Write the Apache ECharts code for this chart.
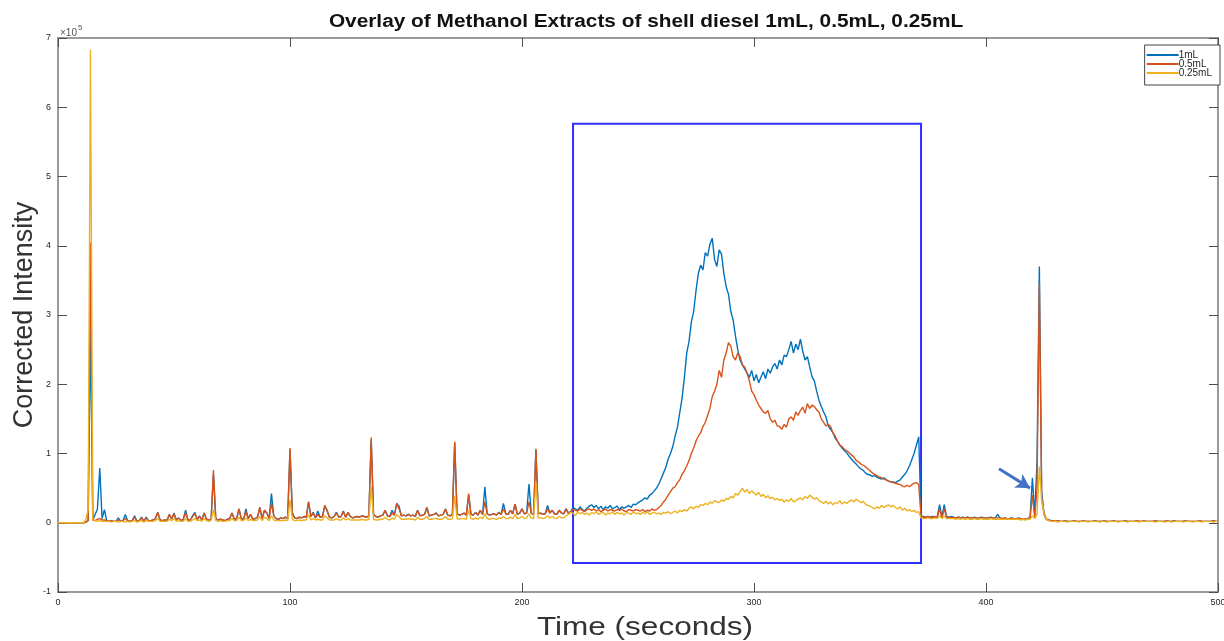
<!DOCTYPE html>
<html>
<head>
<meta charset="utf-8">
<script src="https://cdn.jsdelivr.net/npm/echarts@6/dist/echarts.min.js"></script>
<style>
  html, body { margin: 0; padding: 0; background: #fff; }
  #chart { width: 1224px; height: 641px; }
</style>
</head>
<body>
<div id="chart"></div>
<script>
// Corrected intensity, in thousands of counts, one sample per second from t = 0 s to t = 500 s.
const sampleStep = 1; // seconds between samples

const xTicks = [0, 100, 200, 300, 400, 500];
const yTicks = [-1, 0, 1, 2, 3, 4, 5, 6, 7]; // ×10^5

const seriesNames = ['1mL', '0.5mL', '0.25mL'];

const intensity1mL = [
  0,0,0,0,0,0,0,0,0,0,
  0,0,1,3,280,4,12,20,79,6,
  19,3,2,3,2,2,7,2,3,12,
  3,2,3,10,2,3,8,2,8,3,
  3,4,6,15,4,3,4,3,12,5,
  14,4,7,3,5,18,4,4,10,15,
  5,10,4,14,5,4,5,70,6,4,
  5,4,3,5,6,14,5,6,20,6,
  5,20,6,12,5,6,8,22,6,18,
  14,6,42,10,6,5,7,6,8,6,
  105,15,7,6,8,7,9,8,30,9,
  15,7,17,8,9,25,18,8,7,9,
  15,8,9,17,8,15,9,7,8,9,
  8,10,9,8,10,120,12,9,8,10,
  11,18,10,9,18,11,28,24,10,11,
  10,12,10,11,9,18,10,11,12,22,
  10,11,12,14,10,11,12,20,11,10,
  12,115,13,11,12,14,11,40,12,11,
  15,11,18,12,52,13,11,12,13,11,
  15,12,28,13,12,18,13,27,12,14,
  20,13,14,56,14,12,105,13,14,12,
  13,25,14,18,13,12,18,14,13,20,
  14,16,22,20,18,23,19,17,21,24,
  26,22,25,20,24,19,23,21,25,20,
  22,24,19,23,21,23,25,22,27,26,
  29,31,33,36,34,40,42,46,50,56,
  64,72,80,92,100,110,125,138,159,180,
  210,245,262,290,305,335,360,372,365,390,
  385,402,411,380,370,394,388,360,341,330,
  305,293,270,250,235,228,222,216,210,220,
  205,214,202,210,218,208,222,216,225,230,
  222,235,228,242,240,250,262,245,258,250,
  265,248,235,240,225,211,205,190,177,168,
  160,153,140,135,130,122,118,112,108,104,
  101,96,92,88,85,81,78,76,72,70,
  69,67,68,66,64,63,65,62,60,59,
  59,58,60,62,66,70,75,82,91,100,
  112,124,10,9,8,9,8,9,8,9,
  26,8,26,9,8,9,8,7,8,7,
  8,7,8,7,7,8,7,7,8,7,
  7,7,8,7,7,12,7,6,7,6,
  6,7,6,6,7,6,6,5,6,8,
  65,10,90,370,45,12,5,4,3,3,
  2,3,2,2,3,2,2,2,3,2,
  2,2,3,2,2,2,2,3,2,2,
  2,3,2,2,2,3,2,2,2,2,
  3,2,2,2,2,3,2,2,3,2,
  2,2,2,3,2,2,2,2,3,2,
  2,3,2,2,2,2,3,2,2,2,
  2,2,3,2,2,2,2,2,3,2,
  2
];

const intensity05mL = [
  0,0,0,0,0,0,0,0,0,0,
  0,0,1,3,405,4,3,5,6,4,
  4,3,2,3,2,2,4,2,3,6,
  3,2,3,8,2,3,7,2,7,3,
  3,4,6,15,4,3,4,4,12,6,
  13,4,7,3,5,14,4,4,9,13,
  5,9,4,14,5,4,5,76,6,4,
  5,4,3,5,6,14,5,6,20,6,
  5,16,6,12,5,6,8,22,6,18,
  14,6,28,10,6,5,7,6,8,6,
  108,12,7,6,8,7,9,8,30,9,
  14,7,12,8,9,25,17,8,7,9,
  14,8,9,16,8,15,9,7,8,9,
  8,10,9,8,10,123,12,9,8,10,
  11,18,10,9,14,11,28,20,10,11,
  10,12,10,11,9,18,10,11,12,22,
  10,11,12,14,10,11,12,20,11,10,
  12,117,13,11,12,14,11,42,12,11,
  15,11,18,12,30,13,11,12,13,11,
  15,12,20,13,12,18,13,27,12,14,
  20,13,14,30,14,12,107,13,14,12,
  13,20,14,18,13,12,18,14,13,20,
  14,16,19,18,17,20,18,16,19,20,
  18,20,17,19,16,18,20,17,19,18,
  17,19,18,20,17,16,19,18,17,19,
  18,17,19,16,18,17,20,18,19,22,
  25,30,34,40,45,50,52,58,62,70,
  75,82,90,100,108,118,125,130,139,145,
  155,165,182,190,200,220,210,235,245,260,
  255,240,235,245,240,228,225,216,205,190,
  185,177,170,165,160,158,162,150,145,148,
  140,139,135,142,138,150,153,148,160,155,
  162,167,158,172,165,170,168,163,160,150,
  145,140,142,139,130,125,118,112,110,106,
  104,101,98,95,90,88,85,83,81,78,
  75,72,70,68,66,65,63,62,60,59,
  58,57,56,55,53,52,54,52,55,57,
  58,55,9,8,8,9,8,8,9,8,
  20,7,20,8,7,8,7,7,8,7,
  7,7,8,7,7,7,7,7,7,7,
  7,7,7,7,7,7,7,6,7,6,
  6,7,6,6,6,6,6,5,6,7,
  40,8,50,346,33,15,5,4,3,3,
  2,3,2,2,3,2,2,2,3,2,
  2,2,3,2,2,2,2,3,2,2,
  2,3,2,2,2,3,2,2,2,2,
  3,2,2,2,2,3,2,2,3,2,
  2,2,2,3,2,2,2,2,3,2,
  2,3,2,2,2,2,3,2,2,2,
  2,2,3,2,2,2,2,2,3,2,
  2
];

const intensity025mL = [
  0,0,0,0,0,0,0,0,0,0,
  0,0,5,19,683,5,3,2,3,2,
  2,2,2,1,2,2,1,2,2,1,
  2,1,2,3,1,2,3,1,3,2,
  2,2,3,6,2,2,2,2,5,3,
  6,2,3,2,2,6,2,2,4,6,
  3,4,2,6,3,2,3,19,3,2,
  3,2,2,3,3,6,3,3,8,3,
  3,7,3,5,3,3,4,9,3,8,
  6,3,10,4,3,3,3,3,4,3,
  33,5,3,3,4,3,4,4,12,4,
  6,4,5,4,4,10,7,4,4,4,
  6,4,4,7,4,6,4,4,4,4,
  4,5,4,4,5,52,5,4,4,5,
  5,8,5,4,7,5,12,9,5,5,
  5,6,5,5,4,8,5,5,6,9,
  5,5,6,6,5,5,6,9,5,5,
  6,38,6,5,6,6,5,18,6,5,
  7,5,8,6,13,6,5,6,6,5,
  7,6,9,6,6,8,6,12,6,7,
  9,6,7,13,7,6,60,7,7,6,
  7,10,7,9,7,6,9,7,7,10,
  12,15,14,10,16,13,15,12,14,11,
  15,13,16,12,14,15,11,14,13,16,
  12,15,13,14,11,15,14,12,16,13,
  14,12,15,13,16,12,14,15,13,14,
  12,15,14,16,13,15,17,14,18,16,
  19,17,21,23,20,24,22,26,25,28,
  26,30,28,32,30,29,33,31,35,34,
  38,36,42,40,45,50,44,48,42,46,
  43,40,44,38,41,36,39,35,37,33,
  35,32,34,30,33,31,35,30,32,34,
  36,33,38,35,40,37,34,36,32,30,
  28,31,27,30,26,29,28,32,27,30,
  28,31,33,30,34,32,29,31,27,25,
  24,22,20,23,21,25,22,24,26,23,
  25,22,20,23,18,21,17,19,16,18,
  15,16,7,6,6,7,6,6,7,6,
  10,6,10,6,6,6,6,5,6,5,
  6,5,6,5,5,6,5,5,6,5,
  5,5,6,5,5,5,5,5,5,5,
  5,5,5,5,5,4,5,4,5,5,
  10,6,12,81,33,12,5,3,2,2,
  2,1,2,2,2,1,2,2,2,2,
  1,2,2,2,1,2,2,2,2,1,
  2,2,1,2,2,2,2,1,2,2,
  2,1,2,2,2,2,1,2,2,2,
  2,2,2,1,2,2,2,1,2,2,
  1,2,2,2,2,1,2,2,2,1,
  2,2,2,1,2,2,2,2,1,2,
  2
];

// Highlighted retention window (s) and its vertical extent (thousands of counts)
const boxTime = [222, 372];
const boxLevel = [-58, 576];
// Arrow pointing at the shoulder before the 423 s peak: [time, level]
const arrowFrom = [405.6, 78];
const arrowTo = [419, 50];

const titleText = 'Overlay of Methanol Extracts of shell diesel 1mL, 0.5mL, 0.25mL';
const xName = 'Time (seconds)';
const yName = 'Corrected Intensity';

const colors = ['#0072BD', '#D95319', '#EDB120'];
const font = 'Liberation Sans, Arial, Helvetica, sans-serif';
const inkColor = '#262626';
const frameColor = '#9a9a9a';
const wideText = 1.19; // horizontal stretch of the horizontal captions

function toPairs(values) {
  return values.map((v, i) => [i * sampleStep, v]);
}

const chart = echarts.init(document.getElementById('chart'), null, { renderer: 'canvas' });

const frameAxis = (extra) => Object.assign({
  type: 'value',
  axisLine: { show: true, onZero: false, lineStyle: { color: frameColor, width: 2 } },
  axisTick: { show: true, inside: true, length: 9, lineStyle: { color: '#4d4d4d', width: 1 } },
  splitLine: { show: false }
}, extra);

const lineSeries = (idx, values, z) => ({
  name: seriesNames[idx], type: 'line', data: toPairs(values),
  showSymbol: false, symbol: 'none', sampling: 'none',
  lineStyle: { color: colors[idx], width: 1.4 }, itemStyle: { color: colors[idx] }, z: z
});

const option = {
  animation: false,
  backgroundColor: '#ffffff',
  textStyle: { fontFamily: font },
  legend: {
    data: seriesNames,
    orient: 'vertical',
    right: 4,
    top: 45,
    align: 'left',
    icon: 'rect',
    itemWidth: 32,
    itemHeight: 2,
    itemGap: -1,
    padding: [5, 8, 7, 2],
    borderColor: '#444',
    borderWidth: 1,
    backgroundColor: '#fff',
    textStyle: { fontFamily: font, fontSize: 10, lineHeight: 9, color: inkColor, padding: [0, 0, 0, -5] }
  },
  grid: { left: 58, right: 6, top: 38, bottom: 49, containLabel: false, outerBoundsMode: 'none' },
  xAxis: [
    frameAxis({
      min: xTicks[0], max: xTicks[xTicks.length - 1], interval: 100,
      position: 'bottom',
      axisLabel: { show: true, fontSize: 9, color: inkColor, margin: 6, fontFamily: font }
    }),
    frameAxis({
      min: xTicks[0], max: xTicks[xTicks.length - 1], interval: 100,
      position: 'top',
      axisLabel: { show: false }
    })
  ],
  yAxis: [
    frameAxis({
      min: yTicks[0] * 100, max: yTicks[yTicks.length - 1] * 100, interval: 100,
      position: 'left',
      axisLabel: {
        show: true, fontSize: 9, color: inkColor, margin: 7, fontFamily: font,
        formatter: (v) => String(Math.round(v / 100))
      },
      name: yName,
      nameLocation: 'middle',
      nameGap: 20,
      nameMoveOverlap: false,
      nameRotate: 90,
      nameTextStyle: { fontSize: 27, color: '#333', fontFamily: font }
    }),
    frameAxis({
      min: yTicks[0] * 100, max: yTicks[yTicks.length - 1] * 100, interval: 100,
      position: 'right',
      axisLabel: { show: false }
    })
  ],
  graphic: [
    {
      type: 'text', x: 646, y: 22, scaleX: wideText,
      style: { text: titleText, fontSize: 17.5, fontWeight: 'bold', fill: '#111', fontFamily: font, align: 'center', verticalAlign: 'middle' }
    },
    {
      type: 'text', x: 645, y: 628, scaleX: wideText,
      style: { text: xName, fontSize: 26.5, fill: '#333', fontFamily: font, align: 'center', verticalAlign: 'middle' }
    },
    { type: 'text', left: 60, top: 28, style: { text: '×10', fontSize: 10, fill: '#555', fontFamily: font } },
    { type: 'text', left: 78, top: 24, style: { text: '5', fontSize: 8, fill: '#555', fontFamily: font } }
  ],
  series: [
    lineSeries(0, intensity1mL, 2),
    lineSeries(1, intensity05mL, 3),
    lineSeries(2, intensity025mL, 4),
    {
      name: 'annotations', type: 'line', data: [], z: 6, silent: true,
      markArea: {
        silent: true,
        label: { show: false },
        itemStyle: { color: 'rgba(0,0,0,0)', borderColor: '#2f2fff', borderWidth: 2 },
        data: [[{ coord: [boxTime[0], boxLevel[1]] }, { coord: [boxTime[1], boxLevel[0]] }]]
      },
      markLine: {
        silent: true,
        symbol: ['none', 'arrow'],
        symbolSize: [12, 14],
        label: { show: false },
        lineStyle: { color: '#4472C4', width: 3, type: 'solid' },
        data: [[{ coord: arrowFrom }, { coord: arrowTo }]]
      }
    }
  ]
};

chart.setOption(option);
</script>
</body>
</html>
